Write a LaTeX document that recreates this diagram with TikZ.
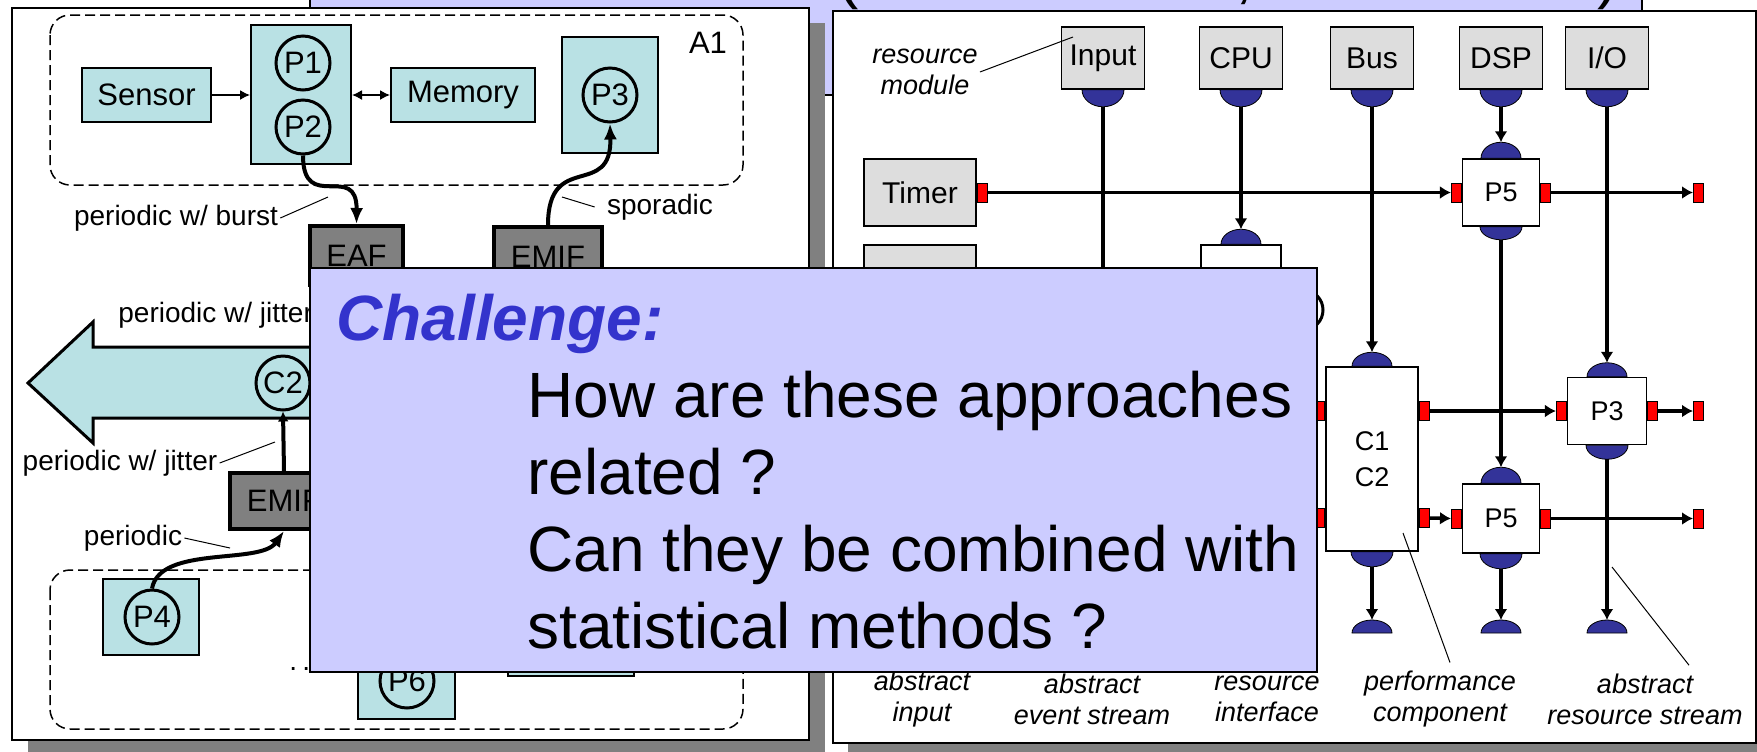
\documentclass[tikz,border=0pt]{standalone}
\usepackage{fontspec}
\setmainfont{Liberation Sans}
\usetikzlibrary{positioning, arrows.meta}

\definecolor{boxcyan}{RGB}{185,225,228}
\definecolor{emugray}{RGB}{128,128,128}
\definecolor{resgray}{RGB}{221,221,221}
\definecolor{portblue}{RGB}{51,51,153}
\definecolor{slideblue}{RGB}{204,204,255}
\definecolor{headblue}{RGB}{51,51,204}

\newcommand\boxfont{\fontsize{15.5}{18}\selectfont}
\newcommand\resfont{\fontsize{15}{18}\selectfont}
\newcommand\compfont{\fontsize{13.5}{18}\selectfont}
\newcommand\notefont{\fontsize{14}{16}\selectfont}
\newcommand\inotefont{\fontsize{13.5}{15.5}\selectfont\itshape}
\newcommand\chalfont{\fontsize{32}{38.5}\selectfont}

% blue interface ports: point, name of the free end, height
\newcommand\portbelow[3]{%
  \filldraw[bluport] ([xshift=-10.5pt]#1) arc[start angle=180, end angle=360, x radius=10.5pt, y radius=#3] -- cycle;
  \coordinate (#2) at ([yshift=-#3]#1);}
\newcommand\portabove[3]{%
  \filldraw[bluport] ([xshift=10pt]#1) arc[start angle=0, end angle=180, x radius=10pt, y radius=#3] -- cycle;
  \coordinate (#2) at ([yshift=#3]#1);}

\tikzset{
    panel/.style={draw, fill=white, line width=1pt},
    panelshade/.style={fill=emugray},
    slide/.style={draw, fill=slideblue, line width=0.75pt, inner sep=0pt},
    region/.style={draw, dash pattern=on 5pt off 2.5pt, line width=0.75pt, rounded corners=10pt},
    cyanbox/.style={draw, fill=boxcyan, line width=1pt, inner sep=0pt, font=\boxfont},
    proc/.style={circle, draw, line width=1.5pt, minimum size=27pt, inner sep=0pt, font=\boxfont},
    emu/.style={draw, fill=emugray, line width=2pt, inner sep=0pt, font=\boxfont},
    resmod/.style={draw, fill=resgray, line width=0.75pt, inner sep=0pt, minimum width=41.5pt, minimum height=31pt, font=\resfont},
    comp/.style={draw, fill=white, line width=0.75pt, inner sep=0pt, font=\compfont},
    note/.style={font=\notefont, inner sep=1pt},
    inote/.style={font=\inotefont, align=center, inner sep=1pt},
    lead/.style={line width=0.5pt},
    link/.style={line width=0.75pt, -{Latex[length=5pt,width=5pt]}},
    twolink/.style={line width=0.75pt, {Latex[length=5pt,width=5pt]}-{Latex[length=5pt,width=5pt]}},
    flow/.style={line width=2pt, -{Latex[length=8pt,width=6.5pt]}},
    stream/.style={line width=1.75pt, -{Latex[length=5.5pt,width=6.5pt]}},
    bigarrow/.style={draw, fill=boxcyan, line width=1.5pt, line join=miter},
    redport/.style={draw, fill=red, line width=0.4pt, minimum width=5pt, minimum height=9.5pt, inner sep=0pt},
    bluport/.style={fill=portblue, draw=black, line width=0.4pt},
}

\begin{document}
\begin{tikzpicture}[x=0.5pt, y=-0.5pt]
  \useasboundingbox (0,0) rectangle (1757,751);
  \clip (0,0) rectangle (1757,751);
  \fill[white] (0,0) rectangle (1757,751);

  % title bar behind both panels
  \draw[slide] (310,-10) rectangle (1642,95);
  \node[font=\chalfont, anchor=base] (tl) at (848,-4) {(};
  \node[font=\chalfont, anchor=base] (tc) at (1244,-4) {,};
  \node[font=\chalfont, anchor=base] (tr) at (1608,-4) {)};

  % left panel
  \fill[panelshade] (28,23) rectangle (825,757);
  \draw[panel] (12,8) rectangle (809,740);
  \draw[region] (50,15) rectangle (743,185);
  \draw[region] (50,570) rectangle (743,729);
  \node[note, font=\boxfont] (a1) at (708,43) {A1};

  \node[cyanbox, minimum width=64.5pt, minimum height=27pt] (sensor) at (146.5,95) {Sensor};
  \node[cyanbox, minimum width=50pt, minimum height=69.5pt] (p12) at (301,94.5) {};
  \node[proc] (p1) at (303,63) {P1};
  \node[proc] (p2) at (303,127) {P2};
  \node[cyanbox, minimum width=72pt, minimum height=27pt] (memory) at (463,95) {Memory};
  \node[cyanbox, minimum width=48pt, minimum height=58pt] (p3box) at (610,95) {};
  \node[proc] (p3) at (610,95) {P3};
  \draw[link] (sensor.east) -- (sensor.east -| p12.west);
  \draw[twolink] (p12.east |- memory.west) -- (memory.west);

  \node[emu, minimum width=46.5pt, minimum height=29.5pt] (eaf) at (356.5,255.5) {EAF};
  \node[emu, minimum width=54pt, minimum height=29.5pt] (emifa) at (548,256.5) {EMIF};
  \draw[flow] (p2.south) .. controls (303,214) and (357,161) .. (eaf.north);
  \draw[flow] (emifa.north) .. controls (548,150) and (612,200) .. (p3.south);

  \node[note] (burst) at (176,218) {periodic w/ burst};
  \coordinate (burst-tip) at (328,197);
  \draw[lead] (burst.east) -- (burst-tip);
  \node[note] (spor) at (660,207) {sporadic};
  \coordinate (spor-tip) at (562,197);
  \draw[lead] ([xshift=-5pt]spor.west) -- (spor-tip);

  \draw[bigarrow] (28,383) -- (93,322) -- (93,347) -- (360,347) -- (360,418) -- (93,418) -- (93,443) -- cycle;
  \node[proc] (c2) at (283,383) {C2};
  \node[note, anchor=west] (jit1) at (116,315) {periodic w/ jitter};
  \node[emu, minimum width=54pt, minimum height=28pt] (emifb) at (284,501) {EMIF};
  \draw[line width=2pt, -{Latex[length=5pt,width=5.5pt]}] (emifb.north) -- (c2.south);
  \node[note] (jit2) at (120,463) {periodic w/ jitter};
  \coordinate (jit2-tip) at (275,442);
  \draw[lead] (jit2.east) -- (jit2-tip);
  \node[note] (peri) at (133,538) {periodic};
  \coordinate (peri-tip) at (230,548);
  \draw[lead] (peri.east) -- (peri-tip);

  \node[cyanbox, minimum width=48pt, minimum height=38pt] (p4box) at (151,617) {};
  \node[proc] (p4) at (152,617) {P4};
  \draw[flow] (p4.north) .. controls (160,545) and (260,565) .. (emifb.south);
  \node[cyanbox, minimum width=48.5pt, minimum height=38pt] (p6box) at (406.5,681) {};
  \node[proc] (p6) at (407,681) {P6};
  \node[cyanbox, minimum width=63pt, minimum height=28pt] (pbox) at (571,648) {};
  \node[note, anchor=base west] (dots) at (287,670) {.\kern2.6pt.\kern2.6pt.};

  % right panel
  \fill[panelshade] (848,26) rectangle (1771,758);
  \draw[panel] (833,11) rectangle (1756,743);

  \foreach \name/\lbl/\x in {input/Input/1103, cpu/CPU/1241, bus/Bus/1372, dsp/DSP/1501, io/{I/O}/1607}{
    \node[resmod] (\name) at (\x,58) {\lbl};
    \portbelow{\name.south}{\name-p}{8.5pt}
  }
  \node[inote] (resnote) at (925,72) {resource\\module};
  \coordinate (resnote-tip) at (1073,37);
  \draw[lead] (resnote.east) -- (resnote-tip);

  \node[resmod, minimum width=56pt, minimum height=33.5pt] (timer) at (920,192.5) {Timer};
  \node[resmod, minimum width=56pt, minimum height=33.5pt] (sensorr) at (920,278.5) {Sensor};

  \node[comp, minimum width=40pt, minimum height=33.5pt] (p1r) at (1241,278.5) {P1};
  \node[proc, minimum size=20pt] (hid) at (1303,310) {};
  \node[comp, minimum width=38.5pt, minimum height=33.5pt] (p5a) at (1501,192.5) {P5};
  \node[comp, minimum width=46pt, minimum height=92pt, align=center] (c12) at (1372,459) {C1\\C2};
  \node[comp, minimum width=39.5pt, minimum height=33.5pt] (p3r) at (1607,411) {P3};
  \node[comp, minimum width=38.5pt, minimum height=34.5pt] (p5b) at (1501,518.5) {P5};

  \portabove{p1r.north}{p1r-t}{7.5pt}
  \portabove{p5a.north}{p5a-t}{8pt}
  \portbelow{p5a.south}{p5a-b}{6.5pt}
  \portabove{c12.north}{c12-t}{7pt}
  \portbelow{c12.south}{c12-b}{7.5pt}
  \portabove{p3r.north}{p3r-t}{7pt}
  \portbelow{p3r.south}{p3r-b}{7pt}
  \portabove{p5b.north}{p5b-t}{8pt}
  \portbelow{p5b.south}{p5b-b}{7.5pt}
  \foreach \c/\x in {d1/1372, d2/1501, d3/1607}{
    \coordinate (\c) at (\x,633);
    \portabove{\c}{\c-t}{6.5pt}
  }

  \node[redport, anchor=west] (timer-o) at (timer.east) {};
  \node[redport, anchor=east] (p5a-i) at (p5a.west) {};
  \node[redport, anchor=west] (p5a-o) at (p5a.east) {};
  \node[redport, anchor=west] (out1) at (1693,192.5) {};
  \node[redport, anchor=east] (c12-i1) at ([yshift=24pt]c12.west) {};
  \node[redport, anchor=east] (c12-i2) at ([yshift=-29.5pt]c12.west) {};
  \node[redport, anchor=west] (c12-o1) at ([yshift=24pt]c12.east) {};
  \node[redport, anchor=west] (c12-o2) at ([yshift=-29.5pt]c12.east) {};
  \node[redport, anchor=east] (p3r-i) at (p3r.west) {};
  \node[redport, anchor=west] (p3r-o) at (p3r.east) {};
  \node[redport, anchor=west] (out2) at (1693,411) {};
  \node[redport, anchor=east] (p5b-i) at (p5b.west) {};
  \node[redport, anchor=west] (p5b-o) at (p5b.east) {};
  \node[redport, anchor=west] (out3) at (1693,518.5) {};

  % event streams
  \draw[stream] (timer-o.east) -- (p5a-i.west);
  \draw[stream] (p5a-o.east) -- (out1.west);
  \draw[stream] (c12-o1.east) -- (p3r-i.west);
  \draw[stream] (p3r-o.east) -- (out2.west);
  \draw[stream] (c12-o2.east) -- (p5b-i.west);
  \draw[stream] (p5b-o.east) -- (out3.west);

  % resource streams
  \coordinate (input-end) at (1103,330);
  \draw[line width=1.75pt] (input-p) -- (input-end);
  \draw[stream] (cpu-p) -- (p1r-t);
  \draw[stream] (bus-p) -- (c12-t);
  \draw[stream] (dsp-p) -- (p5a-t);
  \draw[stream] (io-p) -- (p3r-t);
  \draw[stream] (p5a-b) -- (p5b-t);
  \draw[stream] (c12-b) -- (d1-t);
  \draw[stream] (p5b-b) -- (d2-t);
  \draw[stream] (p3r-b) -- (d3-t);

  \foreach \name/\txt/\x in {lin/{abstract\\input}/922, lev/{abstract\\event stream}/1092, lri/{resource\\interface}/1267, perf/{performance\\component}/1440, lrs/{abstract\\resource stream}/1645}
    \node[inote] (\name) at (\x,699) {\txt};
  \coordinate (perf-tip) at (1403,533);
  \draw[lead] ([xshift=5pt, yshift=3pt]perf.north) -- (perf-tip);
  \coordinate (lrs-tip) at (1612,567);
  \draw[lead] ([xshift=22pt, yshift=3pt]lrs.north) -- (lrs-tip);

  % question box on top
  \node[slide, minimum width=503.5pt, minimum height=202pt] (chal) at (813.5,470) {};
  \node[font=\chalfont\bfseries\itshape, text=headblue, inner sep=0pt, anchor=base west] (chead) at (336,340) {Challenge:};
  \foreach \txt [count=\i] in {How are these approaches, related ?, Can they be combined with, statistical methods ?}
    \node[font=\chalfont, inner sep=0pt, anchor=base west] (q\i) at (527,340+77*\i) {\txt};
\end{tikzpicture}
\end{document}
